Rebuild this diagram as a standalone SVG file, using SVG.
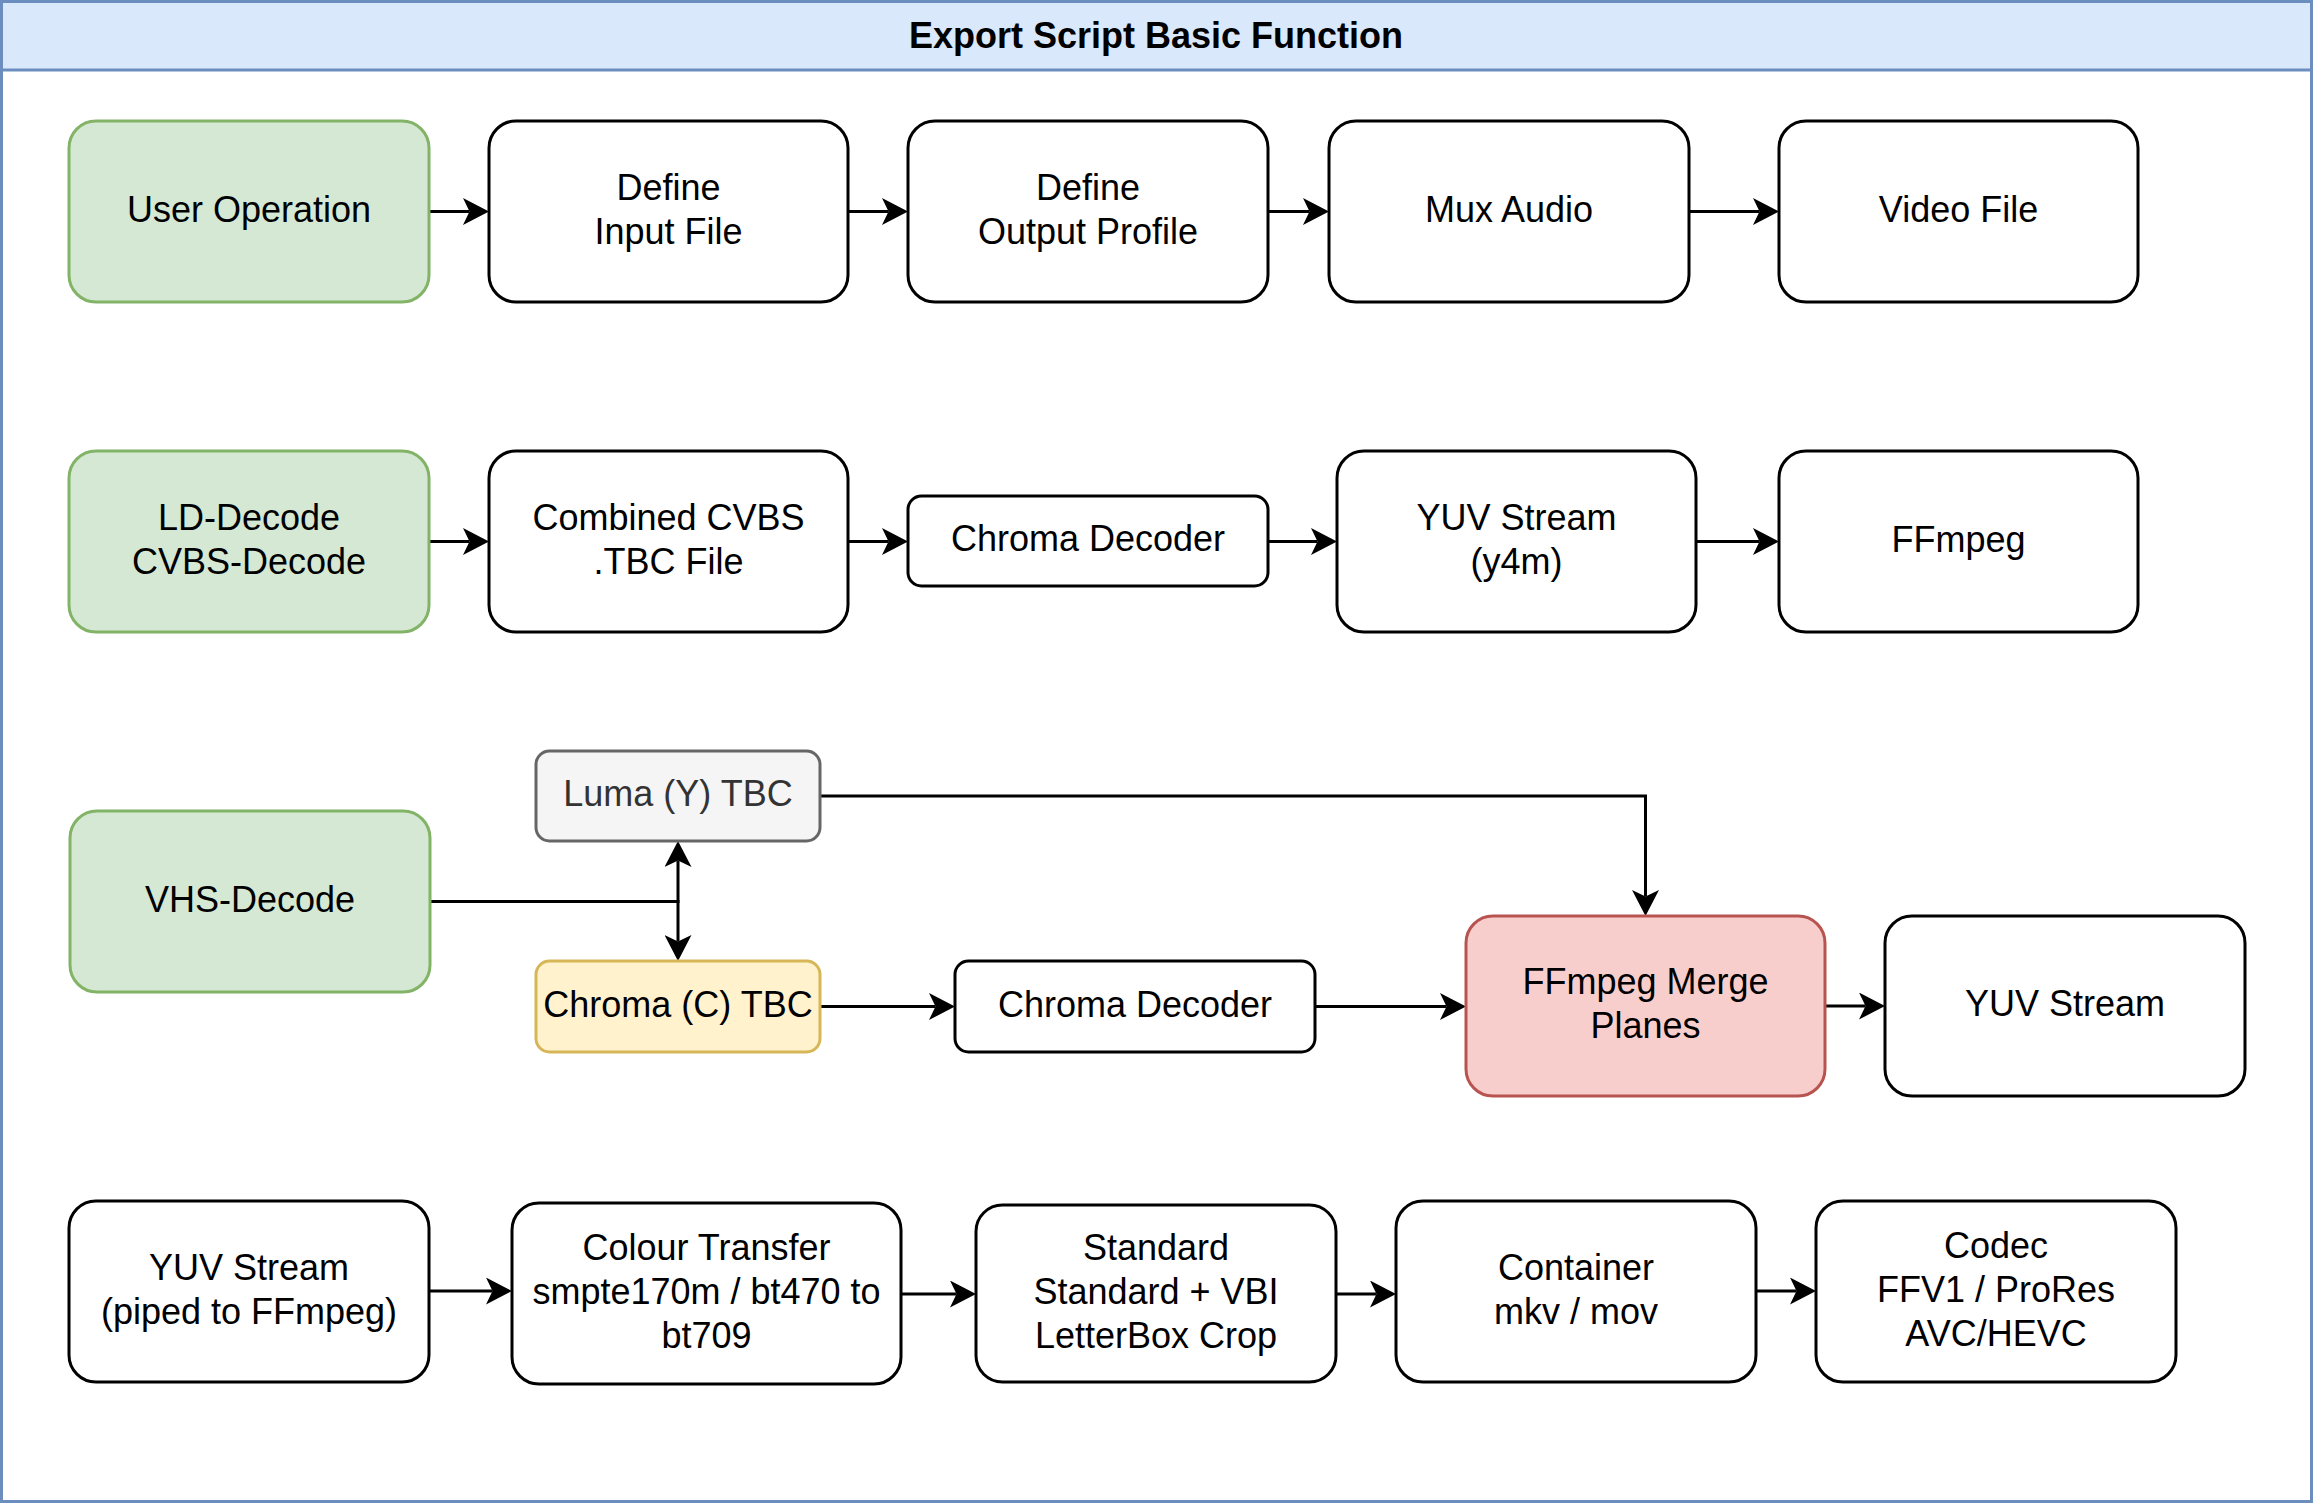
<svg xmlns="http://www.w3.org/2000/svg" width="2313" height="1506" viewBox="0 0 2313 1506">
<style>
  text { font-family: "Liberation Sans", Arial, Helvetica, sans-serif; font-size: 36px; fill: #000000; text-anchor: middle; }
  .title { font-weight: bold; }
  .box { fill: #ffffff; stroke: #000000; stroke-width: 3; }
  .green { fill: #d5e8d4; stroke: #82b366; stroke-width: 3; }
  .grey { fill: #f5f5f5; stroke: #666666; stroke-width: 3; }
  .yellow { fill: #fff2cc; stroke: #d6b656; stroke-width: 3; }
  .red { fill: #f8cecc; stroke: #b85450; stroke-width: 3; }
  .grey-text { fill: #333333; }
  .edge { fill: none; stroke: #000000; stroke-width: 3; marker-end: url(#arrow); }
</style>
<defs>
  <marker id="arrow" markerUnits="userSpaceOnUse" markerWidth="27" markerHeight="27" refX="6.5" refY="13.5" orient="auto">
    <path d="M0,0 L26,13.5 L0,27 L6.5,13.5 Z" fill="#000000"/>
  </marker>
</defs>

<g id="container">
  <rect x="1.5" y="1.5" width="2310" height="1500" fill="#ffffff" stroke="#6c8ebf" stroke-width="3"/>
  <rect x="1.5" y="1.5" width="2310" height="68.5" fill="#dae8fc" stroke="#6c8ebf" stroke-width="3"/>
  <text class="title" x="1156" y="48">Export Script Basic Function</text>
</g>

<g id="connectors">
  <path class="edge" d="M429,211.5 H469.5"/>
  <path class="edge" d="M848,211.5 H888.5"/>
  <path class="edge" d="M1268,211.5 H1309.5"/>
  <path class="edge" d="M1689,211.5 H1759.5"/>
  <path class="edge" d="M429,541.5 H469.5"/>
  <path class="edge" d="M848,541.5 H888.5"/>
  <path class="edge" d="M1268,541.5 H1317.5"/>
  <path class="edge" d="M1696,541.5 H1759.5"/>
  <path class="edge" d="M430,901.5 H678 V860.5"/>
  <path class="edge" d="M430,901.5 H678 V941.5"/>
  <path class="edge" d="M820,796 H1645.5 V896.5"/>
  <path class="edge" d="M820,1006.5 H935.5"/>
  <path class="edge" d="M1315,1006.5 H1446.5"/>
  <path class="edge" d="M1825,1006 H1865.5"/>
  <path class="edge" d="M429,1291 H492.5"/>
  <path class="edge" d="M901,1294 H956.5"/>
  <path class="edge" d="M1336,1294 H1376.5"/>
  <path class="edge" d="M1756,1291 H1796.5"/>
</g>

<g id="user-operation">
  <rect class="green" x="69" y="121" width="360" height="181" rx="27"/>
  <text x="249" y="221.5">User Operation</text>
</g>
<g id="define-input-file">
  <rect class="box" x="489" y="121" width="359" height="181" rx="27"/>
  <text x="668.5" y="199.5">Define</text>
  <text x="668.5" y="243.5">Input File</text>
</g>
<g id="define-output-profile">
  <rect class="box" x="908" y="121" width="360" height="181" rx="27"/>
  <text x="1088" y="199.5">Define</text>
  <text x="1088" y="243.5">Output Profile</text>
</g>
<g id="mux-audio">
  <rect class="box" x="1329" y="121" width="360" height="181" rx="27"/>
  <text x="1509" y="221.5">Mux Audio</text>
</g>
<g id="video-file">
  <rect class="box" x="1779" y="121" width="359" height="181" rx="27"/>
  <text x="1958.5" y="221.5">Video File</text>
</g>

<g id="ld-decode">
  <rect class="green" x="69" y="451" width="360" height="181" rx="27"/>
  <text x="249" y="529.5">LD-Decode</text>
  <text x="249" y="573.5">CVBS-Decode</text>
</g>
<g id="combined-cvbs">
  <rect class="box" x="489" y="451" width="359" height="181" rx="27"/>
  <text x="668.5" y="529.5">Combined CVBS</text>
  <text x="668.5" y="573.5">.TBC File</text>
</g>
<g id="chroma-decoder-1">
  <rect class="box" x="908" y="496" width="360" height="90" rx="13.5"/>
  <text x="1088" y="551">Chroma Decoder</text>
</g>
<g id="yuv-stream-y4m">
  <rect class="box" x="1337" y="451" width="359" height="181" rx="27"/>
  <text x="1516.5" y="529.5">YUV Stream</text>
  <text x="1516.5" y="573.5">(y4m)</text>
</g>
<g id="ffmpeg">
  <rect class="box" x="1779" y="451" width="359" height="181" rx="27"/>
  <text x="1958.5" y="551.5">FFmpeg</text>
</g>

<g id="vhs-decode">
  <rect class="green" x="70" y="811" width="360" height="181" rx="27"/>
  <text x="250" y="911.5">VHS-Decode</text>
</g>
<g id="luma-tbc">
  <rect class="grey" x="536" y="751" width="284" height="90" rx="13.5"/>
  <text class="grey-text" x="678" y="806">Luma (Y) TBC</text>
</g>
<g id="chroma-tbc">
  <rect class="yellow" x="536" y="961" width="284" height="91" rx="13.5"/>
  <text x="678" y="1016.5">Chroma (C) TBC</text>
</g>
<g id="chroma-decoder-2">
  <rect class="box" x="955" y="961" width="360" height="91" rx="13.5"/>
  <text x="1135" y="1016.5">Chroma Decoder</text>
</g>
<g id="ffmpeg-merge-planes">
  <rect class="red" x="1466" y="916" width="359" height="180" rx="27"/>
  <text x="1645.5" y="994">FFmpeg Merge</text>
  <text x="1645.5" y="1038">Planes</text>
</g>
<g id="yuv-stream">
  <rect class="box" x="1885" y="916" width="360" height="180" rx="27"/>
  <text x="2065" y="1016">YUV Stream</text>
</g>

<g id="yuv-stream-piped">
  <rect class="box" x="69" y="1201" width="360" height="181" rx="27"/>
  <text x="249" y="1279.5">YUV Stream</text>
  <text x="249" y="1323.5">(piped to FFmpeg)</text>
</g>
<g id="colour-transfer">
  <rect class="box" x="512" y="1203" width="389" height="181" rx="27"/>
  <text x="706.5" y="1259.5">Colour Transfer</text>
  <text x="706.5" y="1303.5">smpte170m / bt470 to</text>
  <text x="706.5" y="1347.5">bt709</text>
</g>
<g id="standard">
  <rect class="box" x="976" y="1205" width="360" height="177" rx="26.5"/>
  <text x="1156" y="1259.5">Standard</text>
  <text x="1156" y="1303.5">Standard + VBI</text>
  <text x="1156" y="1347.5">LetterBox Crop</text>
</g>
<g id="container-box">
  <rect class="box" x="1396" y="1201" width="360" height="181" rx="27"/>
  <text x="1576" y="1279.5">Container</text>
  <text x="1576" y="1323.5">mkv / mov</text>
</g>
<g id="codec">
  <rect class="box" x="1816" y="1201" width="360" height="181" rx="27"/>
  <text x="1996" y="1257.5">Codec</text>
  <text x="1996" y="1301.5">FFV1 / ProRes</text>
  <text x="1996" y="1345.5">AVC/HEVC</text>
</g>
</svg>
